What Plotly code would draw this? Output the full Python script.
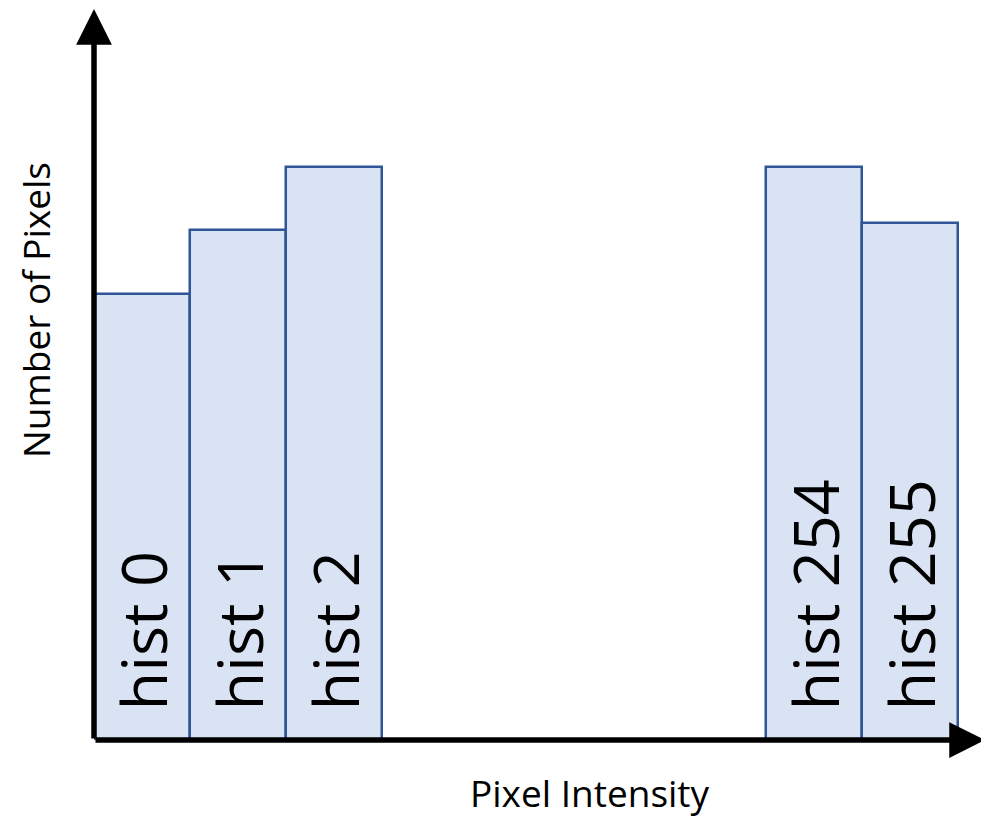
import plotly.graph_objects as go

# data
bin_labels = ["hist 0", "hist 1", "hist 2", "hist 254", "hist 255"]
pixel_counts = [446, 510, 573, 573, 517]
gap_slots = ["gap a", "gap b", "gap c", "gap d"]  # empty category slots for the break
x_title = "Pixel Intensity"
y_title = "Number of Pixels"

category_order = bin_labels[:3] + gap_slots + bin_labels[3:]

FONT = "Open Sans"
# page has an 8px body margin; figure sized so the plot lands where the reference has it
W, H = 981, 811
ml, mr, mt, mb = 86, 4, 0, 79
pw, ph = W - ml - mr, H - mt - mb

fig = go.Figure()
fig.add_trace(go.Bar(
    x=bin_labels, y=pixel_counts,
    marker=dict(color="#dae3f3", line=dict(color="#2f5597", width=2.5)),
    width=1.0, hoverinfo="skip",
))

annotations = []
for lab in bin_labels:
    annotations.append(dict(
        x=lab, y=0, xref="x", yref="y", text=lab, showarrow=False,
        textangle=-90, yanchor="bottom", xanchor="center", yshift=27,
        font=dict(family=FONT, size=63, color="black"),
    ))
# axis arrows
annotations.append(dict(x=0, y=1, xref="paper", yref="paper", ax=0, ay=ph,
                        showarrow=True, text="",
                        arrowhead=2, arrowsize=1.3, arrowwidth=5.5, arrowcolor="black"))
annotations.append(dict(x=1, y=0, xref="paper", yref="paper", ax=-pw, ay=0,
                        showarrow=True, text="",
                        arrowhead=2, arrowsize=1.3, arrowwidth=5.5, arrowcolor="black"))
# axis titles placed in figure pixels, converted to paper coords
title_px = [(x_title, 582, 784, 0), (y_title, 27, 302, -90)]
for txt, px, py, ang in title_px:
    annotations.append(dict(
        x=(px - ml) / pw, y=(H - mb - py) / ph, xref="paper", yref="paper",
        xanchor="center", yanchor="middle", borderpad=0,
        text=txt, showarrow=False, textangle=ang,
        font=dict(family=FONT, size=37, color="black"),
    ))

fig.update_layout(
    width=W, height=H,
    margin=dict(l=ml, r=mr, t=mt, b=mb),
    plot_bgcolor="white", paper_bgcolor="white",
    bargap=0, showlegend=False,
    annotations=annotations,
    xaxis=dict(type="category", categoryorder="array", categoryarray=category_order,
               range=[-0.5, 8.78], showticklabels=False, ticks="", showgrid=False,
               zeroline=False, showline=False, fixedrange=True),
    yaxis=dict(range=[0, 732], showticklabels=False, ticks="", showgrid=False,
               zeroline=False, showline=False, fixedrange=True),
)

fig.write_html("out.html")
